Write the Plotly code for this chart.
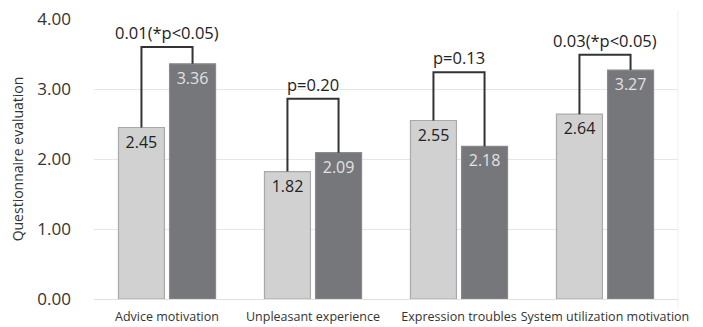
import plotly.graph_objects as go

categories = ["Advice motivation", "Unpleasant experience", "Expression troubles", "System utilization motivation"]
group_a = [2.45, 1.82, 2.55, 2.64]
group_b = [3.36, 2.09, 2.18, 3.27]
p_labels = ["0.01(*p<0.05)", "p=0.20", "p=0.13", "0.03(*p<0.05)"]
bracket_tops = [3.60, 2.86, 3.24, 3.49]
y_ticks = [0, 1, 2, 3, 4]

bargap = 0.30
bargroupgap = 0.10

fig = go.Figure()
fig.add_trace(go.Bar(
    x=categories, y=group_a, name="A",
    marker=dict(color="#d1d1d1", line=dict(color="#a9a9a9", width=1.2)),
    text=[f"{v:.2f}" for v in group_a], textposition="inside", insidetextanchor="end",
    textfont=dict(color="#222222", size=16, family="Open Sans"), textangle=0,
))
fig.add_trace(go.Bar(
    x=categories, y=group_b, name="B",
    marker=dict(color="#76777b", line=dict(color="#8a8a8a", width=1.2)),
    text=[f"{v:.2f}" for v in group_b], textposition="inside", insidetextanchor="end",
    textfont=dict(color="#e2e2e2", size=16, family="Open Sans"), textangle=0,
))

slot = (1 - bargap) / 2
off = slot / 2
shapes = []
annotations = []
for i, (a, b, top, lab) in enumerate(zip(group_a, group_b, bracket_tops, p_labels)):
    xl, xr = i - off, i + off
    shapes.append(dict(type="path", xref="x", yref="y",
                       path=f"M {xl},{a} L {xl},{top} L {xr},{top} L {xr},{b}",
                       line=dict(color="#333333", width=2)))
    annotations.append(dict(x=i, y=top, xref="x", yref="y", text=lab, showarrow=False,
                            yanchor="bottom", yshift=1,
                            font=dict(size=16.5, color="#222222", family="Open Sans")))

shapes.append(dict(type="line", xref="paper", yref="paper", x0=1, x1=1, y0=-0.03, y1=1.03,
                   line=dict(color="#eeeeee", width=1)))

fig.update_layout(
    width=695, height=319,
    margin=dict(l=86, r=25, t=11, b=28),
    paper_bgcolor="white", plot_bgcolor="white",
    barmode="group", bargap=bargap, bargroupgap=bargroupgap,
    showlegend=False,
    font=dict(family="Open Sans", color="#333333"),
    shapes=shapes, annotations=annotations,
    uniformtext=dict(minsize=8, mode="show"),
)
fig.update_xaxes(showgrid=False, tickfont=dict(size=12.5, color="#333333"), ticks="",
                 showline=False, range=[-0.5, 3.5], ticklabelstandoff=8, automargin=False,
                 ticklabeloverflow="allow")
fig.update_yaxes(range=[0, 4], tickvals=y_ticks, ticktext=[f"{v:.2f}" for v in y_ticks],
                 showgrid=True, gridcolor="#e6e6e6", gridwidth=1, zeroline=True,
                 zerolinecolor="#e0e0e0", zerolinewidth=1, automargin=False,
                 ticklabeloverflow="allow",
                 tickfont=dict(size=17, color="#333333"), ticklabelstandoff=22,
                 title=dict(text="Questionnaire evaluation", font=dict(size=14, color="#333333"),
                            standoff=10))

fig.write_html("out.html")
